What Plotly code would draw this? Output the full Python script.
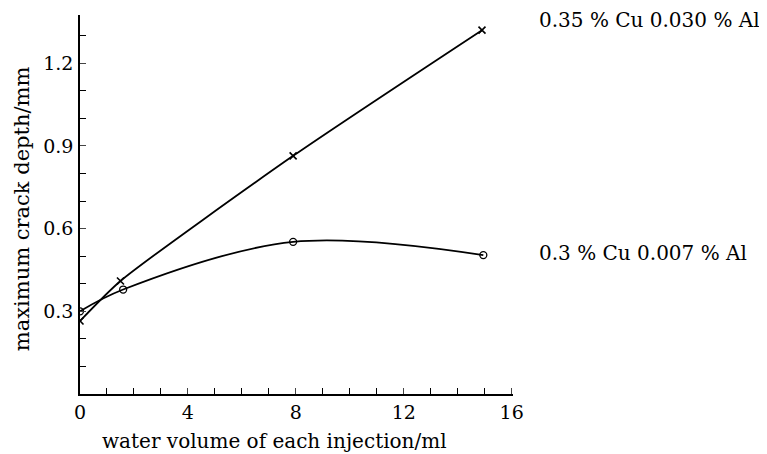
import plotly.graph_objects as go

# data
x_cu035 = [0.0, 1.5, 7.9, 14.9]
y_cu035 = [0.265, 0.41, 0.864, 1.32]
x_cu03 = [0.0, 1.6, 7.9, 14.95]
y_cu03 = [0.30, 0.379, 0.552, 0.504]
label_cu035 = "0.35 % Cu 0.030 % Al"
label_cu03 = "0.3 % Cu 0.007 % Al"
x_ticks = [0, 4, 8, 12, 16]
y_ticks = [0.3, 0.6, 0.9, 1.2]

FONT = "DejaVu Serif"

fig = go.Figure()
fig.add_trace(go.Scatter(
    x=x_cu035, y=y_cu035, mode="lines+markers",
    line=dict(color="black", width=1.8, shape="spline", smoothing=0.6),
    marker=dict(symbol="x-thin", size=7, line=dict(color="black", width=1.6)),
    showlegend=False))
fig.add_trace(go.Scatter(
    x=x_cu03, y=y_cu03, mode="lines+markers",
    line=dict(color="black", width=1.8, shape="spline", smoothing=1.0),
    marker=dict(symbol="circle-open", size=7, color="black", line=dict(width=1.3)),
    showlegend=False))

fig.update_layout(
    width=759, height=446,
    margin=dict(l=72, r=254, t=7, b=60, autoexpand=False),
    paper_bgcolor="white", plot_bgcolor="white",
    font=dict(family=FONT, size=19, color="black"),
    xaxis=dict(range=[0, 16.05], tickvals=x_ticks, ticks="inside", ticklen=6,
               tickwidth=1.3, showline=True, linecolor="black", linewidth=1.5,
               showgrid=False, zeroline=False, automargin=False,
               minor=dict(dtick=1, ticks="inside", ticklen=6, tickwidth=1.3, tickcolor="black", showgrid=False),
               tickfont=dict(family=FONT, size=19)),
    yaxis=dict(range=[0, 1.375], tickvals=y_ticks, ticktext=["0.3", "0.6", "0.9", "1.2"],
               ticks="inside", ticklen=6, tickwidth=1.3, automargin=False,
               showline=True, linecolor="black", linewidth=1.5,
               showgrid=False, zeroline=False, ticklabelstandoff=1,
               minor=dict(dtick=0.1, ticks="inside", ticklen=6, tickwidth=1.3, tickcolor="black", showgrid=False),
               tickfont=dict(family=FONT, size=19)),
    annotations=[
        dict(text=label_cu035, xref="paper", yref="paper", x=1.055, y=0.987,
             xanchor="left", yanchor="middle", showarrow=False, font=dict(size=20)),
        dict(text=label_cu03, xref="paper", yref="paper", x=1.055, y=0.371,
             xanchor="left", yanchor="middle", showarrow=False, font=dict(size=20)),
        dict(text="water volume of each injection/ml", xref="paper", yref="paper",
             x=0.046, y=-0.123, xanchor="left", yanchor="middle", showarrow=False, font=dict(size=20)),
        dict(text="maximum crack depth/mm", xref="paper", yref="paper", textangle=-90,
             x=-0.134, y=0.49, xanchor="center", yanchor="middle", showarrow=False, font=dict(size=21)),
    ],
)

fig.write_html("out.html")
